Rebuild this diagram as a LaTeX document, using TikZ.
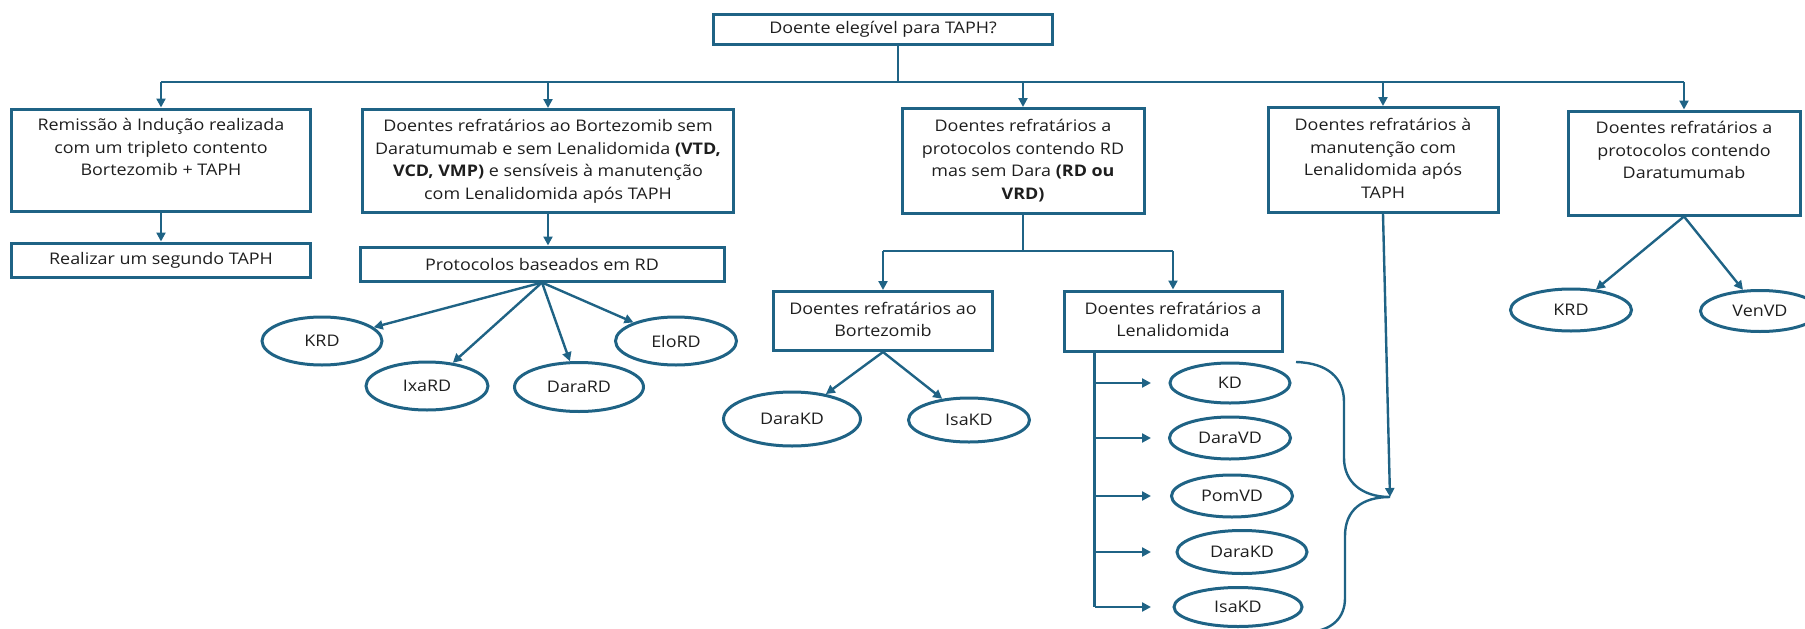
\documentclass[tikz,border=0pt]{standalone}
\usepackage{fontspec}
\setmainfont[FakeStretch=1.12]{Open Sans}
\usetikzlibrary{shapes.geometric,arrows.meta}
\definecolor{flow}{RGB}{31,99,133}
\definecolor{ink}{RGB}{30,30,30}
\begin{document}
\begin{tikzpicture}[x=1pt,y=-1pt,
  txt/.style={text=ink,font=\fontsize{16}{22.8}\selectfont},
  box/.style={txt,draw=flow,line width=3pt,rectangle,align=center,inner sep=0pt},
  oval/.style={txt,draw=flow,line width=3pt,ellipse,inner sep=0pt},
  link/.style={draw=flow,line width=2.4pt},
  arr/.style={link,-{Triangle[length=9pt,width=9pt]}},
]
\useasboundingbox (0,0) rectangle (1805,629);
\clip (0,0) rectangle (1805,629);

% ---- question at the top
\node[box,minimum width=339pt,minimum height=30pt] (top) at (883,29) {Doente elegível para TAPH?};

% ---- first level
\node[box,minimum width=299pt,minimum height=102pt] (b1) at (161,160)
  {\strut Remissão à Indução realizada\\com um tripleto contento\\Bortezomib + TAPH\\\strut};
\node[box,minimum width=371pt,minimum height=103pt] (b2) at (548,161)
  {\strut Doentes refratários ao Bortezomib sem\\Daratumumab e sem Lenalidomida \textbf{(VTD,}\\\textbf{VCD, VMP)} e sensíveis à manutenção\\com Lenalidomida após TAPH\strut};
\node[box,minimum width=242pt,minimum height=105pt] (b3) at (1023,161)
  {\strut Doentes refratários a\\protocolos contendo RD\\mas sem Dara \textbf{(RD ou}\\\textbf{VRD)}\strut};
\node[box,minimum width=230pt,minimum height=105pt] (b4) at (1383,160)
  {\strut Doentes refratários à\\manutenção com\\Lenalidomida após\\TAPH\strut};
\node[box,minimum width=232pt,minimum height=104pt] (b5) at (1684,163)
  {\strut Doentes refratários a\\protocolos contendo\\Daratumumab\\\strut};

% ---- second level
\node[box,minimum width=299pt,minimum height=34pt] (b1b) at (161,260) {Realizar um segundo TAPH};
\node[box,minimum width=364pt,minimum height=34pt] (b2b) at (542,264) {Protocolos baseados em RD};
\node[box,minimum width=219pt,minimum height=59pt] (bort) at (883,321)
  {\strut Doentes refratários ao\\Bortezomib\strut};
\node[box,minimum width=218pt,minimum height=60pt] (lena) at (1173,321)
  {\strut Doentes refratários a\\Lenalidomida\strut};

% ---- treatment options
\node[oval,minimum width=120pt,minimum height=48pt] (krdA) at (322,341) {KRD};
\node[oval,minimum width=122pt,minimum height=48pt] (ixard) at (427,386) {IxaRD};
\node[oval,minimum width=129pt,minimum height=49pt] (darard) at (579,387) {DaraRD};
\node[oval,minimum width=121pt,minimum height=48pt] (elord) at (676,341) {EloRD};

\node[oval,minimum width=137pt,minimum height=54pt] (darakdA) at (792,419) {DaraKD};
\node[oval,minimum width=121pt,minimum height=44pt] (isakdA) at (969,420) {IsaKD};

\node[oval,minimum width=120pt,minimum height=40pt] (kd) at (1230,383) {KD};
\node[oval,minimum width=121pt,minimum height=42pt] (daravd) at (1230,438) {DaraVD};
\node[oval,minimum width=121pt,minimum height=42pt] (pomvd) at (1232,496) {PomVD};
\node[oval,minimum width=130pt,minimum height=43pt] (darakdB) at (1242,552) {DaraKD};
\node[oval,minimum width=128pt,minimum height=39pt] (isakdB) at (1238,607) {IsaKD};

\node[oval,minimum width=121pt,minimum height=42pt] (krdB) at (1571,310) {KRD};
\node[oval,minimum width=119pt,minimum height=41pt] (venvd) at (1760,311) {VenVD};

% ---- trunk below the question
\coordinate (hub) at (898,82);
\draw[link,line width=2.8pt] (top.south -| hub) -- (hub);
\draw[link,line width=2.8pt] (hub -| b1) -- (hub -| b5);
\foreach \b in {b1,b2,b3,b4,b5}
  \draw[arr] (hub -| \b) -- (\b.north);

% ---- column 1 and 2
\draw[arr] (b1.south) -- (b1b.north);
\draw[arr] (b2.south) -- (b2.south |- b2b.north);
\foreach \e in {krdA,ixard,darard,elord}
  \draw[arr] (b2b.south) -- (\e);

% ---- column 3
\coordinate (split) at (1025,251);
\draw[link] (b3.south) -- (b3.south |- split);
\draw[link] (bort.north |- split) -- (lena.north |- split);
\draw[arr] (bort.north |- split) -- (bort.north);
\draw[arr] (lena.north |- split) -- (lena.north);
\draw[arr] (bort.south) -- (darakdA);
\draw[arr] (bort.south) -- (isakdA);

% ---- options after lenalidomide refractoriness
\coordinate (spine) at ([xshift=32pt]lena.south west);
\coordinate (tipx) at (1151,0);
\draw[link] (spine) -- (spine |- isakdB);
\foreach \e in {kd,daravd,pomvd,darakdB,isakdB}
  \draw[arr] (spine |- \e) -- (tipx |- \e);

% ---- brace grouping those options
\coordinate (brtip) at (1390,497);
\draw[link] (1296,362) .. controls (1328,363) and (1344,378) .. (1344,402)
  -- (1344,458) .. controls (1344,482) and (1362,497) .. (brtip)
  .. controls (1362,497) and (1345,510) .. (1345,536)
  -- (1345,598) .. controls (1345,618) and (1332,630) .. (1310,632);
\draw[arr] (b4.south) -- (brtip);

% ---- column 5
\draw[arr] (b5.south) -- (krdB);
\draw[arr] (b5.south) -- (venvd);
\end{tikzpicture}
\end{document}
